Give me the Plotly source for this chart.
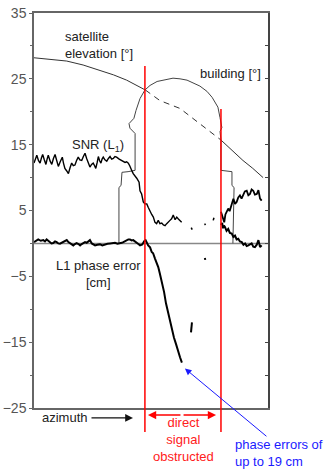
import plotly.graph_objects as go

# ---- data (azimuth axis in arbitrary units 0..100) ----
elev_solid1_x = [0.0, 7.0, 14.0, 21.0, 28.2, 34.0, 39.6, 44.0, 47.6]
elev_solid1_y = [28.2, 28.0, 27.7, 27.1, 26.3, 25.6, 24.8, 24.0, 23.3]
elev_dash_x = [47.6, 53.8, 62.4, 70.9, 76.5, 79.9]
elev_dash_y = [23.3, 21.7, 20.5, 18.2, 16.7, 15.7]
elev_solid2_x = [79.9, 84.5, 89.3, 93.5, 97.9]
elev_solid2_y = [15.7, 14.2, 12.6, 11.4, 10.0]

bld_x = [36.3, 36.3, 37.2, 37.6, 40.2, 43.2, 43.2, 41.0, 40.6, 42.7, 43.6, 45.3, 47.4,
         49.6, 52.6, 56.0, 59.4, 62.4, 65.4, 70.9, 73.9, 76.1, 78.6, 79.5, 79.9, 80.3,
         79.5, 79.9, 79.9, 84.6, 84.6, 85.5, 85.0]
bld_y = [0.0, 8.5, 8.8, 10.8, 10.9, 11.1, 16.7, 17.5, 18.2, 19.0, 20.2, 22.0, 23.3,
         24.0, 24.6, 24.9, 25.1, 25.0, 24.8, 23.9, 23.1, 22.2, 20.7, 19.1, 18.2, 17.6,
         17.0, 15.7, 11.1, 10.9, 8.8, 8.5, 0.0]

snr_left_x = [0.0, 0.6, 1.2, 1.9, 2.6, 3.2, 3.7, 4.4, 5.1, 5.6, 6.1, 6.9, 7.6, 8.3, 9.0,
              9.7, 10.4, 11.2, 12.1, 12.6, 13.2, 14.0, 14.7, 15.4, 16.1, 16.8, 17.5, 18.2,
              18.9, 19.6, 20.4, 21.1, 21.8, 22.5, 23.2, 23.9, 24.6, 25.3, 25.9, 26.4, 27.0,
              27.5, 28.0, 28.6, 29.1, 29.6, 30.3, 31.1, 31.8, 32.5, 33.2, 33.9, 34.6, 35.3,
              36.4, 37.5, 38.2, 38.9, 39.6, 40.3, 40.9, 41.5, 42.0, 42.4, 43.2, 43.9, 44.9,
              45.3, 46.0, 46.7, 47.4, 48.2, 48.8, 49.6, 50.3, 51.0, 51.7, 52.4, 53.1, 53.8,
              54.6, 55.3, 56.0, 56.7, 57.4, 58.1, 58.8, 59.5, 60.3, 61.0, 61.7, 62.4, 63.1]
snr_left_y = [12.2, 12.9, 13.4, 12.6, 12.2, 13.0, 13.5, 12.7, 12.0, 12.8, 13.4, 12.5, 12.0, 12.9, 13.5,
              12.6, 11.7, 12.4, 13.1, 12.2, 11.4, 11.0, 10.6, 11.5, 12.2, 11.8, 11.9, 12.6,
              13.1, 12.7, 12.6, 13.2, 13.7, 12.9, 12.3, 11.6, 12.0, 12.2, 11.8, 11.4, 12.3,
              13.2, 12.6, 12.2, 12.8, 13.1, 12.7, 12.5, 12.9, 13.2, 12.8, 12.9, 13.2, 13.1,
              12.8, 12.6, 12.5, 12.3, 12.4, 12.2, 11.8, 11.1, 10.9, 10.6, 10.3, 9.9, 9.3,
              8.0, 7.5, 6.3, 6.0, 6.0, 5.5, 4.8, 4.4, 4.0, 3.2, 3.0, 3.5, 3.0,
              3.1, 2.8, 2.7, 3.0, 3.2, 3.5, 3.75, 4.3, 3.6, 4.0, 3.7, 3.5, 3.2]
snr_bits_x = [67.2, 67.6, None, 72.9, 73.3, None, 76.6, 76.9]
snr_bits_y = [2.4, 2.1, None, 3.0, 2.8, None, 3.5, 3.9]
snr_right_x = [79.9, 80.4, 80.9, 81.3, 81.8, 82.4, 83.0, 83.6, 84.2, 84.7, 85.2, 85.9, 86.6,
               87.3, 88.0, 88.7, 89.4, 90.1, 90.9, 91.6, 92.3, 93.0, 93.7, 94.4, 95.2, 95.9,
               96.6, 97.3]
snr_right_y = [4.8, 4.2, 3.8, 3.2, 4.4, 5.0, 5.3, 4.9, 5.5, 6.0, 6.8, 6.0, 6.3,
               7.0, 7.3, 6.8, 7.5, 7.9, 8.0, 7.3, 7.5, 8.2, 8.0, 7.4, 7.5, 8.1,
               6.8, 6.5]

phase_left_x = [0.0, 0.9, 1.8, 2.9, 4.0, 4.7, 5.4, 6.1, 6.8, 7.5, 8.2, 9.0, 9.7, 10.4, 11.1,
                11.8, 12.5, 13.2, 14.0, 14.7, 15.4, 16.1, 16.8, 17.5, 18.2, 19.0, 19.7, 20.4,
                21.1, 21.8, 22.5, 23.2, 23.9, 24.7, 25.4, 26.1, 27.1, 28.2, 29.2, 30.3, 31.4,
                32.5, 33.5, 34.6, 35.7, 36.8, 37.5, 38.2, 38.9, 39.6, 40.3, 41.0, 41.7, 42.4,
                43.2, 43.9, 44.6, 45.3, 46.3, 47.1, 47.7, 48.8, 49.6, 50.3, 50.9, 51.7, 52.1,
                53.1, 53.8, 54.7, 55.6, 56.4, 57.3, 58.1, 59.0, 59.8, 60.7, 61.5, 62.4, 63.2]
phase_left_y = [0.2, 0.4, 0.6, 0.4, 0.5, 0.3, 0.6, 0.4, 0.2, 0.0, 0.05, 0.3, 0.2, 0.0, -0.05,
                0.1, 0.2, 0.4, 0.5, 0.2, 0.0, -0.2, -0.3, -0.1, 0.05, -0.1, -0.3, -0.1,
                0.0, 0.2, 0.1, 0.3, 0.5, 0.0, -0.2, -0.3, -0.2, -0.15, -0.3, -0.15, -0.05,
                0.0, 0.1, 0.1, -0.05, 0.0, 0.1, 0.2, 0.35, 0.5, 0.6, 0.6, 0.45, 0.5,
                0.3, 0.2, -0.1, -0.3, -0.15, 0.35, 0.5, -0.3, -0.6, -1.3, -1.5, -2.3, -2.6,
                -3.6, -4.6, -5.9, -7.4, -9.1, -10.6, -11.9, -13.2, -14.3, -15.3, -16.4, -17.3, -18.1]
phase_bits_x = [67.5, 67.1, None, 73.0, 73.2]
phase_bits_y = [-12.0, -13.5, None, -2.2, -2.5]
phase_right_x = [79.9, 80.4, 80.8, 81.2, 81.6, 82.3, 83.0, 83.7, 84.5, 85.2, 85.9, 86.6, 87.3,
                 88.0, 88.8, 89.5, 90.2, 90.9, 91.6, 92.3, 93.0, 93.7, 94.4, 95.2, 95.9,
                 96.6, 97.3]
phase_right_y = [2.8, 3.1, 2.3, 2.7, 2.5, 1.9, 2.2, 1.6, 1.5, 1.0, 1.2, 0.6, 0.7,
                 0.3, 0.2, -0.2, 0.0, -0.4, -0.3, -0.1, 0.0, -0.5, -0.55, -0.2, 0.5,
                 -0.55, -0.3]

obstruct_start = 47.4
obstruct_end = 79.9
max_error_point = (64.5, -19.0)
y_ticks = [-25, -15, -5, 5, 15, 25, 35]
y_minor = [-20, -10, 0, 10, 20, 30]

FONT = "Arial, Liberation Sans, sans-serif"
fig = go.Figure()

def line(x, y, color, width, dash=None, yaxis="y"):
    fig.add_trace(go.Scatter(x=x, y=y, mode="lines", yaxis=yaxis,
                             line=dict(color=color, width=width, dash=dash),
                             connectgaps=False, hoverinfo="skip", showlegend=False))

line(elev_solid1_x, elev_solid1_y, "#333333", 1)
line(elev_dash_x, elev_dash_y, "#333333", 1, dash="6px,5px")
line(elev_solid2_x, elev_solid2_y, "#333333", 1)
line(bld_x, bld_y, "#444444", 1)
line(snr_left_x, snr_left_y, "#000000", 1.4)
line(snr_bits_x, snr_bits_y, "#000000", 1.5)
line(snr_right_x, snr_right_y, "#000000", 1.8)
line(phase_left_x, phase_left_y, "#000000", 2)
line(phase_bits_x, phase_bits_y, "#000000", 2)
line(phase_right_x, phase_right_y, "#000000", 2)
# invisible trace for right axis
fig.add_trace(go.Scatter(x=[0], y=[0], yaxis="y2", mode="markers",
                         marker=dict(opacity=0), hoverinfo="skip", showlegend=False))

# zero line
fig.add_shape(type="line", x0=0, x1=100, y0=0, y1=0, xref="x", yref="y",
              line=dict(color="#888888", width=1.5), layer="below")
# red obstruction lines (paper coords so they extend below the frame)
fig.add_shape(type="line", x0=obstruct_start / 100, x1=obstruct_start / 100, y0=0.866, y1=-0.061,
              xref="paper", yref="paper", line=dict(color="#ff0000", width=1.5))
fig.add_shape(type="line", x0=obstruct_end / 100, x1=obstruct_end / 100, y0=0.757, y1=-0.061,
              xref="paper", yref="paper", line=dict(color="#ff0000", width=1.5))

anns = []
def txt(x, y, text, xanchor="left", color="#222222", size=13, align="left", ref="x"):
    anns.append(dict(x=x, y=y, xref="x" if ref == "x" else "paper",
                     yref="y" if ref == "x" else "paper", text=text, showarrow=False,
                     xanchor=xanchor, yanchor="middle", align=align,
                     font=dict(family=FONT, size=size, color=color)))

txt(12.4, 30.1, "satellite<br>elevation [°]")
txt(70.1, 25.8, "building [°]")
txt(15.4, 14.8, "SNR (L<sub>1</sub>)")
txt(27.5, -4.6, "L1 phase error<br>[cm]", xanchor="center", align="center")
txt(0.026, -0.025, "azimuth", ref="paper")
txt(0.637, -0.079, "direct<br>signal<br>obstructed", xanchor="center", color="#ff2020",
    align="center", ref="paper")
txt(0.850, -0.115, "phase errors of<br>up to 19 cm", color="#1a1aff", ref="paper")

# azimuth arrow
anns.append(dict(x=0.423, y=-0.025, ax=-43, ay=0, xref="paper", yref="paper",
                 text="", showarrow=True, arrowhead=2, arrowsize=1.2, arrowwidth=1.3,
                 arrowcolor="#111111"))
# red double arrow
for xe, axp in ((0.487, 34), (0.778, -34)):
    anns.append(dict(x=xe, y=-0.018, ax=axp, ay=0, xref="paper", yref="paper",
                     text="", showarrow=True, arrowhead=2, arrowsize=1.1, arrowwidth=1.5,
                     arrowcolor="#ff0000"))
# blue arrow
anns.append(dict(x=max_error_point[0], y=max_error_point[1], ax=83, ay=69, xref="x", yref="y",
                 text="", showarrow=True, arrowhead=2, arrowsize=1.3, arrowwidth=1,
                 arrowcolor="#1a1aff"))

fig.update_layout(
    width=329, height=471,
    margin=dict(l=34, r=61, t=13, b=63, pad=0),
    plot_bgcolor="white", paper_bgcolor="white",
    hovermode=False, showlegend=False,
    annotations=anns,
    xaxis=dict(range=[0, 100], showgrid=False, zeroline=False, showticklabels=False,
               ticks="", showline=True, linecolor="#666666", linewidth=1.5, mirror=True,
               automargin=False),
    yaxis=dict(range=[-25, 35], showgrid=False, zeroline=False, automargin=False,
               tickmode="array", tickvals=y_ticks, ticks="outside", ticklen=3,
               tickcolor="#666666", showline=True, linecolor="#666666", linewidth=1.5,
               tickfont=dict(family=FONT, size=14, color="#555555"),
               minor=dict(tickvals=y_minor, ticks="outside", ticklen=2, tickcolor="#666666")),
    yaxis2=dict(range=[-25, 35], overlaying="y", side="right", showgrid=False, zeroline=False,
                automargin=False,
                showticklabels=False, tickmode="linear", tick0=-25, dtick=5, ticks="inside",
                ticklen=3, tickcolor="#444444", showline=True, linecolor="#444444", linewidth=1.5),
)

fig.write_html("out.html")
